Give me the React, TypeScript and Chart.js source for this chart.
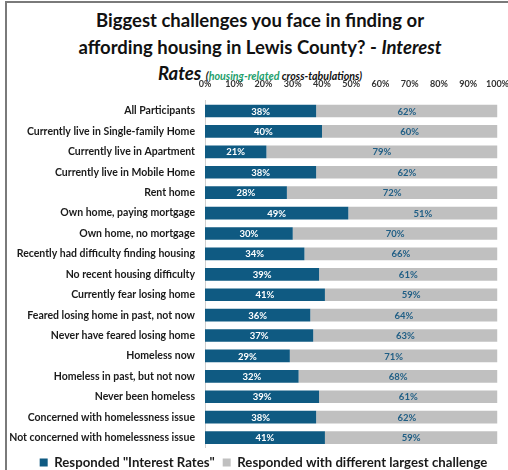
import React, { useEffect, useRef } from "react";
import { Chart, registerables } from "chart.js";

Chart.register(...registerables);

const categories = [
  "All Participants",
  "Currently live in Single-family Home",
  "Currently live in Apartment",
  "Currently live in Mobile Home",
  "Rent home",
  "Own home, paying mortgage",
  "Own home, no mortgage",
  "Recently had difficulty finding housing",
  "No recent housing difficulty",
  "Currently fear losing home",
  "Feared losing home in past, not now",
  "Never have feared losing home",
  "Homeless now",
  "Homeless in past, but not now",
  "Never been homeless",
  "Concerned with homelessness issue",
  "Not concerned with homelessness issue",
];

const interestRates = [38, 40, 21, 38, 28, 49, 30, 34, 39, 41, 36, 37, 29, 32, 39, 38, 41];
const otherChallenge = [62, 60, 79, 62, 72, 51, 70, 66, 61, 59, 64, 63, 71, 68, 61, 62, 59];

const seriesNames = ['Responded "Interest Rates"', "Responded with different largest challenge"];
const tickValues = [0, 10, 20, 30, 40, 50, 60, 70, 80, 90, 100];

const BLUE = "#0f5a82";
const GREY = "#c0c0c0";
const FONT = "Lato, 'Open Sans', sans-serif";

const valueLabels = {
  id: "valueLabels",
  afterDatasetsDraw(chart: any) {
    const ctx = chart.ctx;
    ctx.save();
    ctx.font = `bold 9.5px ${FONT}`;
    ctx.textAlign = "center";
    ctx.textBaseline = "middle";
    chart.data.datasets.forEach((ds: any, i: number) => {
      const meta = chart.getDatasetMeta(i);
      ctx.fillStyle = i === 0 ? "#ffffff" : "#1f5e85";
      meta.data.forEach((bar: any, j: number) => {
        const p = bar.getProps(["x", "y", "base"], true);
        ctx.fillText(`${ds.data[j]}%`, (p.x + p.base) / 2, p.y + 0.5);
      });
    });
    ctx.restore();
  },
};

// let the long category labels use the space left of the y-scale box (avoid clipping)
const widenLabelArea = {
  id: "widenLabelArea",
  afterLayout(chart: any) {
    if (chart.scales.y) chart.scales.y.left = 0;
  },
};

export default function App() {
  const ref = useRef<HTMLCanvasElement | null>(null);

  useEffect(() => {
    if (!ref.current) return;
    const chart = new Chart(ref.current, {
      type: "bar",
      data: {
        labels: categories,
        datasets: [
          { label: seriesNames[0], data: interestRates, backgroundColor: BLUE, categoryPercentage: 0.62, barPercentage: 1 },
          { label: seriesNames[1], data: otherChallenge, backgroundColor: GREY, categoryPercentage: 0.62, barPercentage: 1 },
        ],
      },
      options: {
        indexAxis: "y",
        responsive: false,
        animation: false,
        devicePixelRatio: 1,
        layout: { padding: { left: 28, right: 21, top: 0, bottom: 0 } },
        scales: {
          x: {
            position: "top",
            stacked: true,
            min: 0,
            max: 100,
            afterBuildTicks: (scale: any) => {
              scale.ticks = tickValues.map((v) => ({ value: v }));
            },
            afterFit: (scale: any) => {
              scale.height = 22.8;
            },
            grid: { display: false, drawTicks: false },
            border: { display: false },
            ticks: {
              padding: 11,
              maxRotation: 0,
              minRotation: 0,
              autoSkip: false,
              color: "#333333",
              font: { family: FONT, weight: "bold", size: 9 },
              callback: (v: any) => `${v}%`,
            },
          },
          y: {
            stacked: true,
            afterFit: (scale: any) => {
              scale.width = 177;
            },
            grid: { display: false, drawTicks: false },
            border: { display: true, color: "#cfcfcf", width: 1 },
            ticks: {
              padding: 10,
              color: "#1a1a1a",
              font: { family: FONT, weight: "bold", size: 10.5 },
              autoSkip: false,
            },
          },
        },
        plugins: {
          legend: {
            position: "bottom",
            labels: {
              boxWidth: 8,
              boxHeight: 8,
              padding: 8,
              color: "#1a1a1a",
              font: { family: FONT, weight: "bold", size: 13.2 },
            },
          },
          tooltip: { enabled: false },
          title: { display: false },
        },
      },
      plugins: [valueLabels, widenLabelArea],
    });
    return () => chart.destroy();
  }, []);

  const titleLine: React.CSSProperties = {
    position: "absolute",
    left: 0,
    width: 520,
    textAlign: "center",
    fontWeight: 700,
    fontSize: 18.5,
    lineHeight: "26px",
    color: "#111111",
    whiteSpace: "nowrap",
  };

  return (
    <div
      style={{
        position: "fixed",
        left: 0,
        top: 0,
        width: 508,
        height: 470,
        overflow: "hidden",
        background: "#ffffff",
        fontFamily: FONT,
      }}
    >
      <div style={{ ...titleLine, top: 7 }}>Biggest challenges you face in finding or</div>
      <div style={{ ...titleLine, top: 34 }}>
        affording housing in Lewis County? - <i>Interest</i>
      </div>
      <div style={{ ...titleLine, top: 60 }}>
        <i>Rates</i>{" "}
        <span style={{ fontSize: 10.7, fontStyle: "italic" }}>
          (<span style={{ color: "#22a06b" }}>housing-related</span> cross-tabulations)
        </span>
      </div>
      <canvas
        ref={ref}
        width={520}
        height={401}
        style={{ position: "absolute", left: 0, top: 78, width: 520, height: 401 }}
      />
      <div
        style={{
          position: "absolute",
          left: 5,
          top: 1,
          width: 520,
          height: 480,
          borderLeft: "2px solid #7a7a7a",
          borderTop: "2px solid #7a7a7a",
          pointerEvents: "none",
        }}
      />
    </div>
  );
}
